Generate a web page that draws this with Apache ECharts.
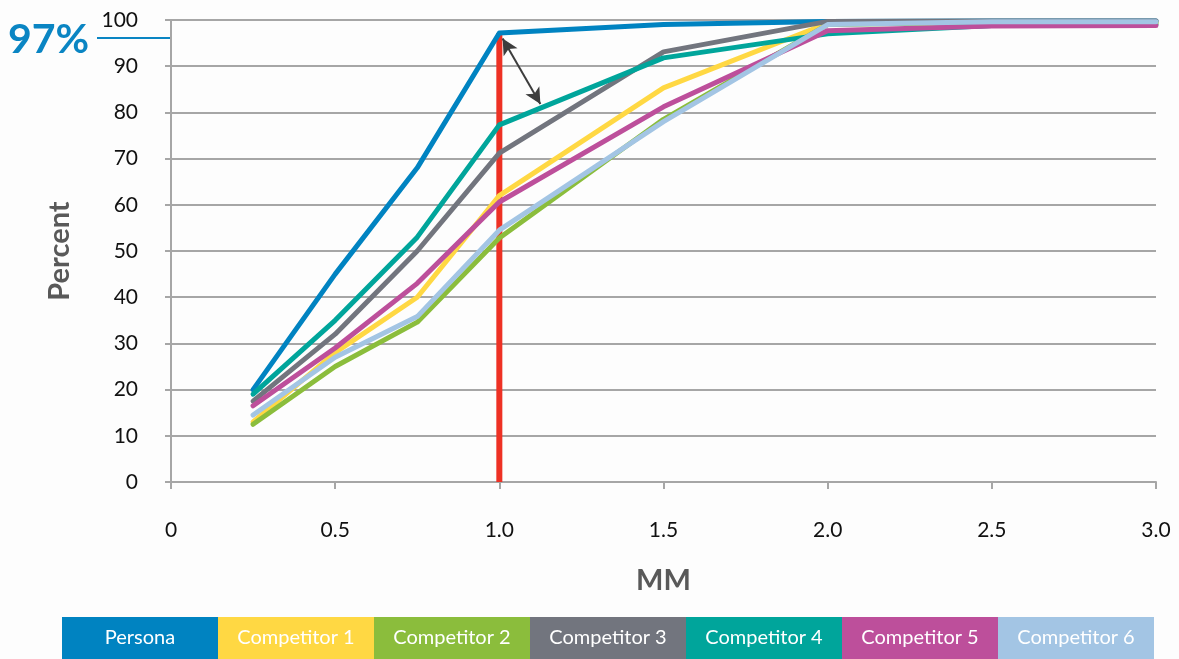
<!DOCTYPE html>
<html><head><meta charset="utf-8">
<script src="https://cdn.jsdelivr.net/npm/echarts@6/dist/echarts.min.js"></script>
<style>html,body{margin:0;padding:0;background:#fff}#c{width:1179px;height:659px}</style>
</head><body><div id="c"></div>
<script>
const xValues = [0.25, 0.5, 0.75, 1.0, 1.5, 2.0, 2.5, 3.0];
const seriesNames = ['Persona','Competitor 1','Competitor 2','Competitor 3','Competitor 4','Competitor 5','Competitor 6'];
const persona = [20, 45, 68, 97.2, 99, 99.7, 99.8, 99.8];
const comp1 = [13, 28, 40, 62, 85.3, 99.3, 99.3, 99.3];
const comp2 = [12.5, 25, 34.6, 52.8, 78.5, 99, 99.5, 99.5];
const comp3 = [17.5, 32, 50, 71.2, 93.1, 99.7, 99.8, 99.8];
const comp4 = [19, 35, 53, 77.3, 91.8, 97, 98.8, 99];
const comp5 = [16.5, 29, 43, 60.6, 81.2, 97.7, 98.7, 98.8];
const comp6 = [14.5, 27, 35.8, 54.5, 78, 99, 99.6, 99.6];
const seriesValues = [persona, comp1, comp2, comp3, comp4, comp5, comp6];
const colors = ['#0083c1','#ffd843','#8bbd3c','#72757e','#00a59b','#bd4f9b','#a3c5e4'];
const yTicks = [0,10,20,30,40,50,60,70,80,90,100];
const highlightX = 1.0;
const highlightY = 97.2;
const highlightLabel = '97%';
const arrowFrom = [1.01, 96];
const arrowTo = [1.125, 81.8];

const chart = echarts.init(document.getElementById('c'));
const font = 'Lato, "Open Sans", sans-serif';

const series = seriesNames.map((n, i) => ({
  name: n, type: 'line', showSymbol: false, symbol: 'none',
  data: xValues.map((x, j) => [x, seriesValues[i][j]]),
  lineStyle: { color: colors[i], width: 5, cap: 'round', join: 'round' },
  itemStyle: { color: colors[i] },
  z: 3 + i
}));
// red vertical line at 1.0
series.push({
  type: 'line', symbol: 'none', data: [[highlightX, 0], [highlightX, highlightY]],
  lineStyle: { color: '#ee3124', width: 6 }, z: 2
});
// double-headed arrow
series.push({
  type: 'line', data: [], z: 20,
  markLine: {
    silent: true, symbol: ['arrow', 'arrow'], symbolSize: [12, 16],
    lineStyle: { color: '#3d3d3d', width: 2, type: 'solid' },
    label: { show: false },
    data: [[{ coord: arrowFrom }, { coord: arrowTo }]]
  }
});

const legendLeft = 62, legendW = 156, legendTop = 617, legendH = 42;
const graphics = seriesNames.map((n, i) => ({
  type: 'group', left: legendLeft + i * legendW, top: legendTop,
  children: [
    { type: 'rect', shape: { x: 0, y: 0, width: legendW, height: legendH }, style: { fill: colors[i] } },
    { type: 'text', style: { text: n, x: legendW / 2, y: legendH / 2, align: 'center', verticalAlign: 'middle',
      fill: '#fff', font: '20px ' + font } }
  ]
}));
graphics.push({ type: 'text', left: 8, top: 19, style: { text: highlightLabel, fill: '#0a85c3', font: 'bold 41px ' + font } });
graphics.push({ type: 'line', shape: { x1: 97, y1: 38, x2: 170, y2: 38 }, style: { stroke: '#0a85c3', lineWidth: 2 } });

chart.setOption({
  backgroundColor: '#fdfdfd',
  animation: false,
  grid: { left: 171, right: 23, top: 20, bottom: 177, containLabel: false },
  xAxis: {
    type: 'value', min: 0, max: 3, interval: 0.5,
    name: 'MM', nameLocation: 'middle', nameGap: 84,
    nameTextStyle: { fontSize: 29, fontWeight: 'bold', color: '#595959', fontFamily: font },
    axisLine: { show: true, lineStyle: { color: '#a6a6a6', width: 2 } },
    axisTick: { show: true, length: 7, lineStyle: { color: '#a6a6a6', width: 2 } },
    axisLabel: { fontSize: 21, color: '#111', margin: 38, fontFamily: font,
      formatter: v => v === 0 ? '0' : v.toFixed(1) },
    splitLine: { show: false }
  },
  yAxis: {
    type: 'value', min: 0, max: 100, interval: 10,
    name: 'Percent', nameLocation: 'middle', nameGap: 97, nameRotate: 90,
    nameTextStyle: { fontSize: 29, fontWeight: 'bold', color: '#595959', fontFamily: font },
    axisLine: { show: true, lineStyle: { color: '#a6a6a6', width: 2 } },
    axisTick: { show: true, length: 6, lineStyle: { color: '#a6a6a6', width: 2 } },
    axisLabel: { fontSize: 21, color: '#111', margin: 33, fontFamily: font,
      formatter: v => yTicks.includes(v) ? String(v) : '' },
    splitLine: { show: true, lineStyle: { color: '#a6a6a6', width: 2 } }
  },
  series: series,
  graphic: graphics
});
</script></body></html>
